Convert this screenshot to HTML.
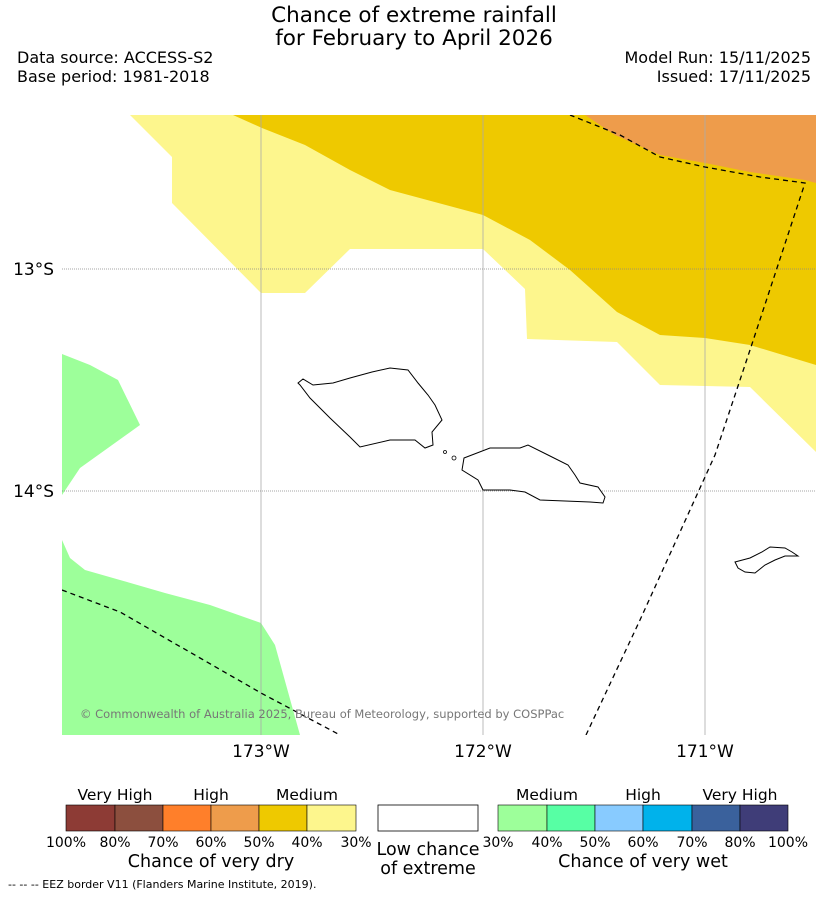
<!DOCTYPE html>
<html><head><meta charset="utf-8"><style>
body{margin:0;background:#fff;font-family:"DejaVu Sans","Liberation Sans",sans-serif;}
svg text{font-family:"DejaVu Sans","Liberation Sans",sans-serif;}
</style></head><body>
<svg width="827" height="896" viewBox="0 0 827 896">
<text x="414" y="22" font-size="21.5" text-anchor="middle">Chance of extreme rainfall</text>
<text x="414" y="45" font-size="21.5" text-anchor="middle">for February to April 2026</text>
<text x="17" y="63" font-size="16">Data source: ACCESS-S2</text>
<text x="17" y="82" font-size="16">Base period: 1981-2018</text>
<text x="811" y="63" font-size="16" text-anchor="end">Model Run: 15/11/2025</text>
<text x="811" y="82" font-size="16" text-anchor="end">Issued: 17/11/2025</text>
<defs><clipPath id="mc"><rect x="62" y="115" width="754" height="620"/></clipPath></defs>
<g clip-path="url(#mc)">
<polygon fill="#FDF68D" points="130,115 172,157 172,203 261,293 305,293 350,249 483,249 525,289 527,339 617,342 660,385 750,387 816,452 816,115"/>
<polygon fill="#EEC900" points="233,115 262,128 305,145 350,170 390,190 483,215 530,240 570,270 617,312 660,335 705,338 750,345 816,365 816,115"/>
<polygon fill="#EE9C4B" points="585,115 615,135 660,155 705,163 750,172 805,180 816,183 816,115"/>
<polygon fill="#9DFF9A" points="62,354 90,365 118,380 140,425 80,468 62,495"/>
<polygon fill="#9DFF9A" points="62,540 70,558 85,570 120,580 165,593 210,605 261,623 275,645 300,735 62,735"/>
<g stroke="#aaa" stroke-width="0.8">
<line x1="261" y1="115" x2="261" y2="735"/><line x1="483" y1="115" x2="483" y2="735"/><line x1="705" y1="115" x2="705" y2="735"/>
</g>
<g stroke="#888" stroke-width="0.8" stroke-dasharray="1,1">
<line x1="62" y1="269" x2="816" y2="269"/><line x1="62" y1="491" x2="816" y2="491"/>
</g>
<polyline fill="none" stroke="#000" stroke-width="1.3" stroke-dasharray="5,4" points="62,590 120,612 200,658 261,693 340,735"/>
<polyline fill="none" stroke="#000" stroke-width="1.3" stroke-dasharray="5,4" points="586,735 640,620 715,455 750,350 805,183 760,177 705,167 660,157 620,135 570,115"/>
<polygon fill="#fff" stroke="#000" stroke-width="1" points="298,383 303,379 313,385 333,383 350,378 372,372 390,368 408,370 418,383 428,395 435,405 442,420 432,432 433,445 425,448 415,440 408,440 390,440 360,447 350,437 330,418 310,398 300,385"/>
<polygon fill="#fff" stroke="#000" stroke-width="1" points="464,458 490,448 520,448 528,445 548,455 568,465 575,475 580,483 598,487 605,497 603,503 590,502 540,500 525,492 510,490 483,490 478,480 462,470"/>
<circle cx="445" cy="452" r="1.5" fill="#fff" stroke="#000" stroke-width="0.8"/>
<circle cx="454" cy="458" r="2" fill="#fff" stroke="#000" stroke-width="0.8"/>
<polygon fill="#fff" stroke="#000" stroke-width="1" points="735,562 750,558 762,552 770,547 785,548 792,552 798,556 785,556 775,560 765,565 755,573 745,572 738,568"/>
<text x="80" y="718" font-size="11.5" fill="#777">© Commonwealth of Australia 2025, Bureau of Meteorology, supported by COSPPac</text>
</g>
<g font-size="17">
<text x="54" y="275" text-anchor="end">13°S</text>
<text x="54" y="497" text-anchor="end">14°S</text>
<text x="261" y="757" text-anchor="middle">173°W</text>
<text x="483" y="757" text-anchor="middle">172°W</text>
<text x="705" y="757" text-anchor="middle">171°W</text>
</g>
<g stroke="#000" stroke-width="0.6">
<rect x="66" y="805" width="49" height="26" fill="#8D3B35"/>
<rect x="115" y="805" width="48" height="26" fill="#8C4F3E"/>
<rect x="163" y="805" width="48" height="26" fill="#FF7F2A"/>
<rect x="211" y="805" width="48" height="26" fill="#EE9C4B"/>
<rect x="259" y="805" width="48" height="26" fill="#EEC900"/>
<rect x="307" y="805" width="49" height="26" fill="#FDF68D"/>
</g>
<rect x="378" y="805" width="100" height="26" fill="#fff" stroke="#000" stroke-width="0.8"/>
<g stroke="#000" stroke-width="0.6">
<rect x="498" y="805" width="49" height="26" fill="#9DFF9A"/>
<rect x="547" y="805" width="48" height="26" fill="#57FFA4"/>
<rect x="595" y="805" width="48" height="26" fill="#88CBFF"/>
<rect x="643" y="805" width="49" height="26" fill="#00B2EB"/>
<rect x="692" y="805" width="48" height="26" fill="#3A619C"/>
<rect x="740" y="805" width="48" height="26" fill="#3F3D78"/>
</g>
<g font-size="15.5" text-anchor="middle">
<text x="115" y="800">Very High</text><text x="211" y="800">High</text><text x="307" y="800">Medium</text>
<text x="547" y="800">Medium</text><text x="643" y="800">High</text><text x="740" y="800">Very High</text>
</g>
<g font-size="14" text-anchor="middle">
<text x="66" y="847">100%</text><text x="115" y="847">80%</text><text x="163" y="847">70%</text><text x="211" y="847">60%</text><text x="259" y="847">50%</text><text x="307" y="847">40%</text><text x="356" y="847">30%</text>
<text x="498" y="847">30%</text><text x="547" y="847">40%</text><text x="595" y="847">50%</text><text x="643" y="847">60%</text><text x="692" y="847">70%</text><text x="740" y="847">80%</text><text x="788" y="847">100%</text>
</g>
<text x="211" y="867" font-size="17.5" text-anchor="middle">Chance of very dry</text>
<text x="428" y="855" font-size="17.5" text-anchor="middle">Low chance</text>
<text x="428" y="874" font-size="17.5" text-anchor="middle">of extreme</text>
<text x="643" y="867" font-size="17.5" text-anchor="middle">Chance of very wet</text>
<text x="8" y="888" font-size="11">--  --  -- EEZ border V11 (Flanders Marine Institute, 2019).</text>
</svg>
</body></html>
